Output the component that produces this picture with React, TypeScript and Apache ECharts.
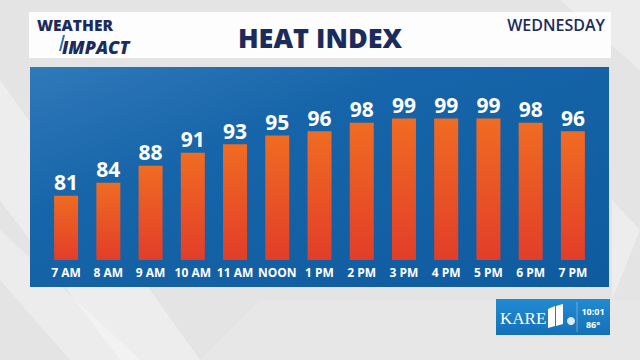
import React, { useEffect, useRef } from "react";
import * as echarts from "echarts";

const categories = ["7 AM", "8 AM", "9 AM", "10 AM", "11 AM", "NOON", "1 PM", "2 PM", "3 PM", "4 PM", "5 PM", "6 PM", "7 PM"];
const heatIndex = [81, 84, 88, 91, 93, 95, 96, 98, 99, 99, 99, 98, 96];
const title = "HEAT INDEX";
const dayLabel = "WEDNESDAY";
const clockTime = "10:01";
const clockTemp = "86°";

const NAVY = "#1b2b5c";
const FONT = "'Open Sans', 'Noto Sans', sans-serif";

export default function App() {
  const ref = useRef<HTMLDivElement>(null);
  useEffect(() => {
    if (!ref.current) return;
    const chart = echarts.init(ref.current, null, { renderer: "svg" });
    chart.setOption({
      animation: false,
      backgroundColor: "#e4e4e4",
      graphic: [
        // background swooshes
        { type: "polygon", z: -10, shape: { points: [[0, 80], [0, 200], [120, 360], [200, 360]] }, style: { fill: "rgba(255,255,255,0.35)" } },
        { type: "polygon", z: -10, shape: { points: [[0, 230], [0, 280], [70, 360], [140, 360]] }, style: { fill: "rgba(255,255,255,0.3)" } },
        { type: "polygon", z: -10, shape: { points: [[560, 0], [640, 0], [640, 70]] }, style: { fill: "rgba(255,255,255,0.3)" } },
        { type: "polygon", z: -10, shape: { points: [[612, 200], [640, 230], [612, 300]] }, style: { fill: "rgba(255,255,255,0.35)" } },
        { type: "polygon", z: -10, shape: { points: [[200, 360], [260, 300], [640, 300], [640, 360]] }, style: { fill: "rgba(255,255,255,0.12)" } },
        // header panel
        { type: "rect", z: -5, shape: { x: 29, y: 12, width: 582, height: 46 }, style: { fill: "#fdfdfd" } },
        // blue panel
        {
          type: "rect", z: -5, shape: { x: 30, y: 67, width: 579, height: 220 },
          style: {
            fill: new echarts.graphic.LinearGradient(0, 0, 1, 1, [
              { offset: 0, color: "#3179b9" },
              { offset: 0.35, color: "#1664a9" },
              { offset: 1, color: "#0f5b9f" },
            ]),
          },
        },
        // title
        { type: "text", x: 320, y: 37, style: { text: title, fill: NAVY, font: `800 27px ${FONT}`, align: "center", verticalAlign: "middle" } },
        { type: "text", x: 605, y: 25, style: { text: dayLabel, fill: NAVY, font: `600 16px ${FONT}`, align: "right", verticalAlign: "middle" } },
        // weather impact logo
        { type: "text", x: 37, y: 24.5, style: { text: "WEATHER", fill: NAVY, font: `800 15.5px ${FONT}`, lineHeight: 16, align: "left", verticalAlign: "middle" } },
        { type: "text", x: 62, y: 47, style: { text: "IMPACT", fill: NAVY, font: `italic 900 18px ${FONT}`, lineHeight: 18, align: "left", verticalAlign: "middle" } },
        { type: "polygon", shape: { points: [[63, 35], [65, 35], [61, 51], [59, 51]] }, style: { fill: "#2a6fb8" } },
        // KARE logo box
        {
          type: "rect", shape: { x: 496, y: 299, width: 114, height: 36 },
          style: {
            fill: new echarts.graphic.LinearGradient(0, 0, 0, 1, [
              { offset: 0, color: "#228bd2" },
              { offset: 1, color: "#1470b8" },
            ]),
          },
        },
        { type: "text", x: 500, y: 318, style: { text: "KARE", fill: "#ffffff", font: `17px 'Liberation Serif', 'DejaVu Serif', serif`, align: "left", verticalAlign: "middle" } },
        { type: "polygon", shape: { points: [[548, 309], [555, 306], [555, 326], [548, 328]] }, style: { fill: "#ffffff" } },
        { type: "polygon", shape: { points: [[556, 306], [563, 304], [563, 324], [556, 326]] }, style: { fill: "#ffffff" } },
        { type: "circle", shape: { cx: 571, cy: 321, r: 4 }, style: { fill: "rgba(255,255,255,0.85)" } },
        { type: "line", shape: { x1: 577, y1: 302, x2: 577, y2: 332 }, style: { stroke: "rgba(255,255,255,0.35)", lineWidth: 1 } },
        { type: "text", x: 593, y: 311, style: { text: clockTime, fill: "#ffffff", font: `700 9px ${FONT}`, align: "center", verticalAlign: "middle" } },
        { type: "text", x: 593, y: 324, style: { text: clockTemp, fill: "#ffffff", font: `700 9px ${FONT}`, align: "center", verticalAlign: "middle" } },
      ],
      grid: { left: 45, right: 46, top: 97, bottom: 100 },
      xAxis: {
        type: "category",
        data: categories,
        axisLine: { show: false },
        axisTick: { show: false },
        axisLabel: { color: "#ffffff", fontFamily: FONT, fontWeight: 700, fontSize: 12, margin: 6, interval: 0 },
      },
      yAxis: {
        type: "value",
        min: 66,
        max: 104,
        show: false,
        splitLine: { show: false },
      },
      series: [
        {
          type: "bar",
          data: heatIndex,
          barWidth: 24,
          itemStyle: {
            color: new echarts.graphic.LinearGradient(0, 0, 0, 1, [
              { offset: 0, color: "#f06c22" },
              { offset: 1, color: "#e23d29" },
            ]),
          },
          label: {
            show: true,
            position: "top",
            distance: 3,
            color: "#ffffff",
            fontFamily: FONT,
            fontWeight: 700,
            fontSize: 21,
          },
        },
      ],
    });
    return () => chart.dispose();
  }, []);
  return <div ref={ref} style={{ position: "fixed", left: 0, top: 0, width: 640, height: 360 }} />;
}
